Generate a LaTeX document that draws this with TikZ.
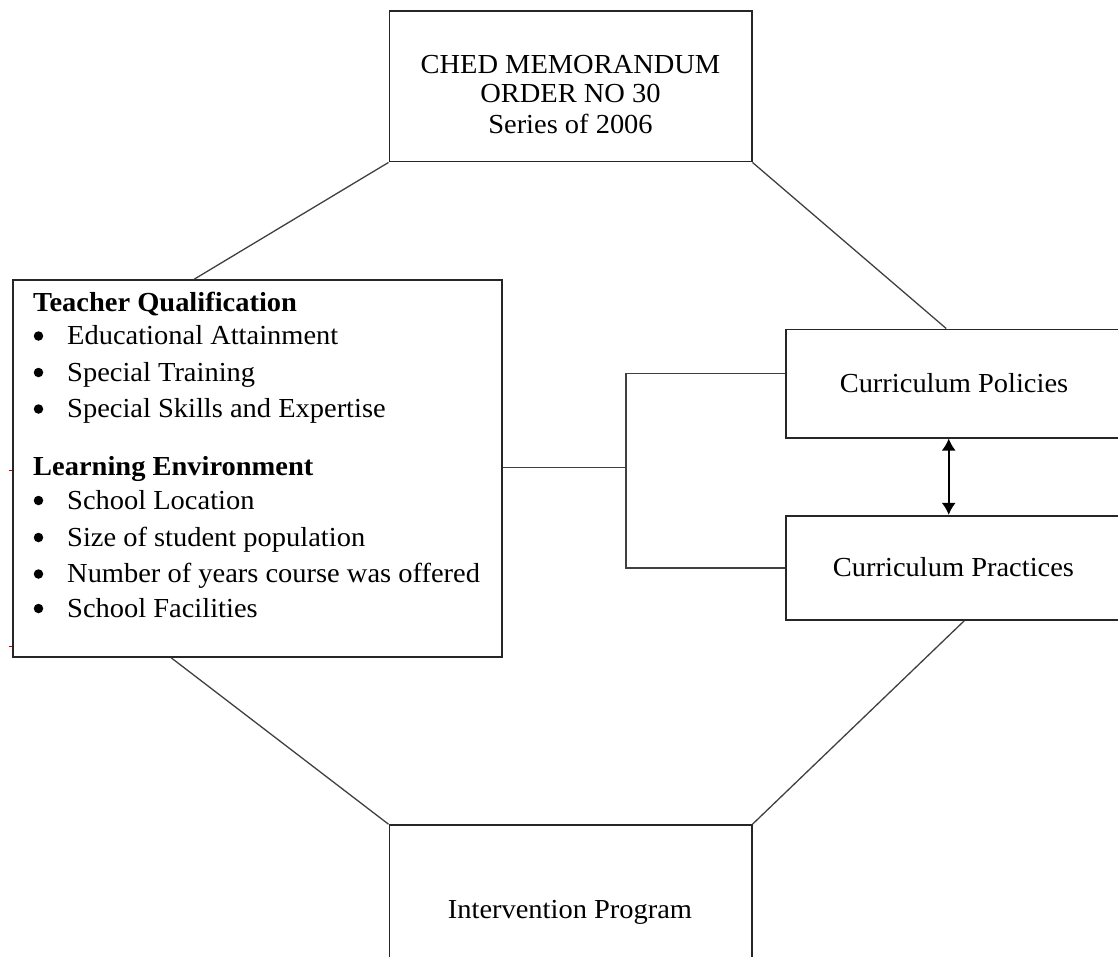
\documentclass[tikz,border=0pt]{standalone}
\usepackage{fontspec}
\setmainfont[FakeStretch=1.035]{Liberation Serif}
\usetikzlibrary{arrows.meta}
\begin{document}
\begin{tikzpicture}[x=1pt,y=-1pt,
  box/.style={draw=black!85,line width=1.6pt,inner sep=0pt},
  link/.style={draw=black!75,line width=1.3pt},
  txt/.style={inner sep=0pt,anchor=base,font=\fontsize{27.5}{33}\selectfont},
  ltxt/.style={txt,anchor=base west},
  head/.style={ltxt,font=\fontsize{27.5}{33}\selectfont\bfseries},
  bul/.style={circle,fill=black,inner sep=0pt,minimum size=9.5pt},
  tip/.style={line width=1.8pt,draw=black,{Latex[length=12pt,width=14pt]}-{Latex[length=12pt,width=14pt]}}]
\useasboundingbox (0,0) rectangle (1118,956);
\clip (0,0) rectangle (1118,956);
% boxes
\node[box,minimum width=362.4pt,minimum height=150.7pt] (ched) at (570.5,86.3) {};
\node[box,minimum width=489pt,minimum height=377pt] (lbox) at (257.2,468.5) {};
\node[box,minimum width=336.3pt,minimum height=108.4pt] (pol) at (953.85,383.5) {};
\node[box,minimum width=336.3pt,minimum height=104.3pt] (prac) at (953.85,567.85) {};
\node[box,minimum width=362.4pt,minimum height=175pt] (interv) at (570.5,912.5) {};
% texts
\node[txt] (ched1) at (570.5,73) {CHED MEMORANDUM};
\node[txt] (ched2) at (570.5,102) {ORDER NO 30};
\node[txt] (ched3) at (570.5,133) {Series of 2006};
\node[txt] (poltxt) at (954,392.7) {Curriculum Policies};
\node[txt] (practxt) at (953.5,576.7) {Curriculum Practices};
\node[txt] (intxt) at (570,918) {Intervention Program};
\node[head] (h1) at (33,311.7) {Teacher Qualification};
\node[bul] (b1) at (38.5,336) {};
\node[ltxt] (i1) at (67,344.5) {Educational Attainment};
\node[bul] (b2) at (38.5,372.5) {};
\node[ltxt] (i2) at (67,381) {Special Training};
\node[bul] (b3) at (38.5,409) {};
\node[ltxt] (i3) at (67,417.5) {Special Skills and Expertise};
\node[head] (h2) at (33,475.5) {Learning Environment};
\node[bul] (b4) at (38.5,500.5) {};
\node[ltxt] (i4) at (67,509) {School Location};
\node[bul] (b5) at (38.5,537.5) {};
\node[ltxt] (i5) at (67,546) {Size of student population};
\node[bul] (b6) at (38.5,574) {};
\node[ltxt] (i6) at (67,582.5) {Number of years course was offered};
\node[bul] (b7) at (38.5,608.5) {};
\node[ltxt] (i7) at (67,617) {School Facilities};
% octagon links
\draw[link] (ched.south west) -- ([xshift=182.3pt]lbox.north west);
\draw[link] (ched.south east) -- ([xshift=161.3pt]pol.north west);
\draw[link] ([xshift=159.3pt]lbox.south west) -- (interv.north west);
\draw[link] ([xshift=179.3pt]prac.south west) -- (interv.north east);
% bracket connector
\coordinate (jn) at (626,467.5);
\draw[link] ([yshift=1pt]lbox.east) -- (jn);
\draw[link] ([yshift=10.2pt]pol.west) -| (jn) |- (prac.west);
% double arrow
\draw[tip] ([xshift=-5.15pt]pol.south) -- ([xshift=-5.15pt]prac.north);
% small red marks
\draw[red!80!black,line width=1.5pt] (8.5,470.5) -- (12,470.5);
\draw[red!80!black,line width=1.5pt] (8.5,646.5) -- (12,646.5);
\end{tikzpicture}
\end{document}
